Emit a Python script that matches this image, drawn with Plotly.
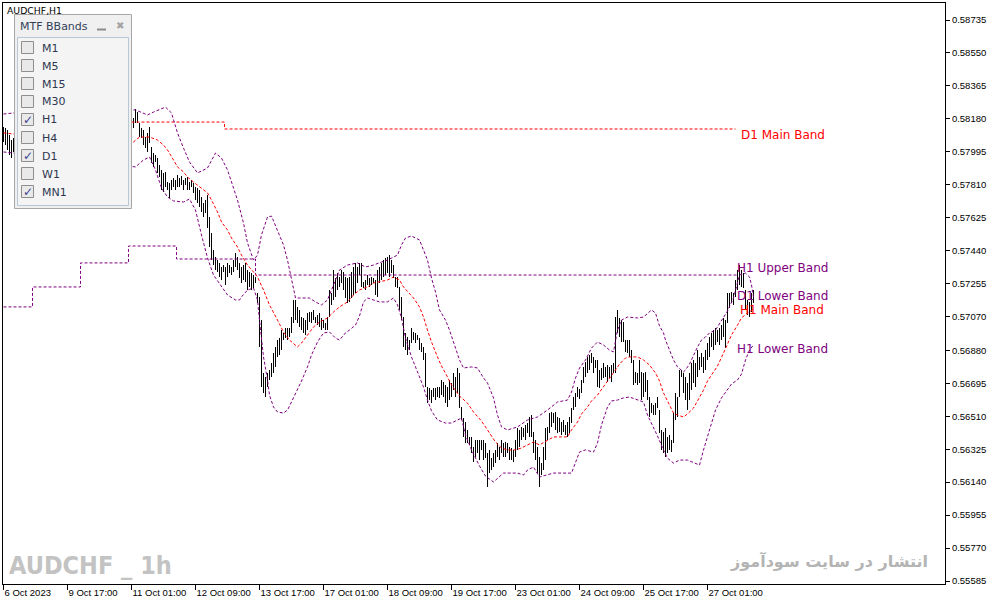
import plotly.graph_objects as go

# ---------------- data (prices in points, 1 pt = 0.00001) ----------------
high_pts = [58134,58129,58117,58089,58061,58072,58010,58000,58030,58050,
58040,58070,58090,58080,58060,58100,58120,58110,58090,58080,
58060,58070,58050,58030,58040,58060,58080,58100,58090,58120,
58140,58130,58110,58100,58080,58090,58070,58060,58080,58100,
58110,58130,58150,58140,58120,58100,58110,58090,58070,58080,
58100,58120,58140,58130,58110,58100,58120,58140,58160,58150,
58170,58180,58160,58150,58170,58185,58235,58218,58157,58129,
58117,58078,58101,58134,58022,57988,57977,57960,57921,57893,
57876,57882,57825,57820,57837,57848,57837,57865,57848,57859,
57837,57848,57853,57825,57837,57820,57797,57792,57780,57741,
57707,57724,57752,57629,57539,57444,57404,57387,57371,57348,
57359,57348,57371,57359,57348,57387,57427,57404,57371,57348,
57359,57371,57331,57320,57314,57303,57292,57202,57180,57050,
56753,56730,56753,56770,56809,56865,56899,56938,56949,56994,
56978,57005,57005,57005,57067,57163,57163,57124,57107,57067,
57062,57050,57090,57095,57095,57107,57067,57079,57090,57062,
57050,57034,57067,57219,57202,57331,57286,57314,57292,57331,
57320,57292,57286,57292,57320,57348,57371,57348,57371,57371,
57264,57275,57303,57286,57292,57286,57275,57331,57348,57371,
57387,57399,57404,57415,57387,57359,57292,57292,57236,57180,
57067,56978,56955,56938,57005,56983,56978,56966,56949,56921,
56899,56865,56674,56669,56657,56669,56669,56674,56674,56714,
56702,56686,56674,56714,56697,56753,56730,56781,56753,56562,
56500,56478,56433,56394,56394,56338,56377,56377,56377,56377,
56377,56360,56304,56321,56275,56304,56321,56360,56338,56377,
56360,56365,56360,56338,56332,56321,56377,56444,56433,56450,
56444,56461,56472,56506,56517,56422,56377,56338,56281,56247,
56338,56444,56450,56528,56534,56528,56534,56506,56500,56478,
56489,56461,56478,56506,56556,56618,56641,56674,56663,56714,
56787,56815,56843,56854,56865,56843,56826,56826,56770,56781,
56809,56787,56798,56787,56798,56809,57067,57107,57062,57050,
57039,56938,56938,56938,56882,56826,56759,56753,56826,56759,
56753,56759,56714,56618,56584,56573,56584,56618,56545,56433,
56422,56444,56394,56405,56377,56528,56641,56618,56770,56770,
56753,56730,56697,56753,56809,56826,56809,56882,56843,56865,
56843,56882,56921,56955,56978,56994,57005,56994,57005,57022,
57062,57050,57202,57202,57208,57202,57275,57331,57359,57331,
57314,57219,57163,57152,57202,57219]

low_pts = [58050,58033,58005,57977,57960,57994,57960,57950,57980,57995,
57990,58010,58040,58030,58010,58030,58060,58070,58050,58030,
58010,58020,58000,57980,57990,58010,58040,58050,58060,58070,
58090,58080,58060,58050,58040,58045,58020,58010,58030,58050,
58070,58080,58100,58090,58070,58060,58065,58040,58030,58040,
58050,58080,58090,58085,58070,58050,58070,58100,58110,58105,
58120,58130,58110,58100,58115,58129,58157,58157,58078,58072,
58033,58016,57994,58044,57932,57910,57938,57876,57853,57780,
57769,57797,57780,57736,57780,57797,57780,57797,57797,57808,
57780,57808,57780,57780,57797,57764,57724,57707,57685,57657,
57629,57651,57567,57460,57387,57359,57331,57320,57292,57275,
57320,57247,57292,57314,57303,57320,57348,57331,57286,57258,
57275,57264,57219,57236,57219,57230,57258,57146,56899,56674,
56641,56618,56674,56714,56730,56753,56787,56843,56854,56882,
56938,56949,56938,56955,56978,57034,57050,57034,57011,56994,
56978,56966,56994,57039,57034,57050,57034,57022,57011,56994,
57005,56994,56994,57067,57135,57163,57180,57219,57236,57258,
57219,57174,57146,57152,57174,57191,57202,57258,57303,57236,
57230,57219,57247,57236,57247,57258,57191,57180,57258,57275,
57292,57303,57314,57292,57314,57286,57236,57230,57107,57050,
56899,56882,56854,56882,56921,56938,56921,56938,56882,56871,
56826,56674,56584,56601,56584,56618,56601,56618,56613,56629,
56618,56584,56562,56601,56618,56657,56618,56641,56556,56489,
56394,56360,56360,56349,56304,56253,56281,56304,56264,56321,
56264,56275,56113,56191,56208,56225,56247,56281,56264,56304,
56281,56281,56304,56264,56264,56253,56281,56321,56338,56377,
56394,56377,56416,56394,56394,56304,56264,56191,56113,56180,
56208,56264,56377,56416,56450,56472,56433,56416,56422,56405,
56422,56405,56394,56416,56472,56545,56562,56618,56607,56641,
56697,56730,56753,56770,56809,56753,56781,56674,56669,56714,
56725,56730,56702,56725,56702,56753,56753,56978,56955,56927,
56927,56871,56865,56843,56809,56686,56697,56686,56697,56601,
56618,56646,56601,56506,56528,56517,56517,56556,56416,56321,
56304,56281,56304,56321,56309,56360,56489,56506,56618,56730,
56641,56601,56545,56601,56657,56697,56674,56730,56770,56787,
56753,56770,56826,56843,56899,56882,56910,56927,56910,56938,
56955,56893,57034,57118,57146,57135,57180,57219,57247,57236,
57230,57107,57079,57067,57095,57146]

# H1 Bollinger bands, sampled at bar indices
h1_upper_idx = [0,5,66,72,75,81,84,87,90,93,97,102,106,109,112,115,117,120,122,125,
127,129,132,134,137,140,142,144,146,148,153,156,159,162,165,168,172,177,181,185,
189,192,197,199,201,204,208,212,214,216,218,221,223,226,228,230,234,237,240,242,
245,247,249,252,255,257,262,267,272,277,282,284,286,288,291,294,297,300,303,305,
307,309,312,317,320,324,326,328,330,331,333,335,337,340,341,343,347,349,351,353,
356,358,360,362,365,367,368,371,373,374,375]
h1_upper_pts = [58207,58213,58230,58202,58218,58246,58213,58101,58016,57938,
57876,57904,57988,57960,57893,57797,57724,57595,57483,57387,
57415,57528,57629,57634,57556,57472,57387,57275,57174,57174,
57174,57152,57135,57163,57247,57331,57359,57371,57348,57359,
57376,57387,57415,57472,57511,57522,57500,57387,57286,57208,
57107,57050,56994,56899,56826,56781,56787,56781,56725,56697,
56613,56517,56450,56433,56444,56450,56489,56506,56545,56590,
56601,56646,56725,56781,56826,56893,56927,56910,56882,56871,
56994,57050,57067,57062,57067,57107,57090,57017,56978,56938,
56882,56826,56787,56759,56770,56803,56899,56938,56955,56978,
56994,57028,57062,57101,57174,57258,57303,57314,57292,57247,57180]

h1_main_idx = [0,5,65,68,73,77,80,82,85,87,90,92,95,97,100,102,104,107,109,112,
114,117,119,122,125,127,130,133,137,140,143,147,149,152,155,158,162,165,168,172,
175,178,182,185,188,192,195,198,200,205,208,210,212,214,217,219,222,224,228,232,
235,239,242,246,249,252,256,259,262,265,268,272,275,282,284,287,289,292,294,297,
300,303,306,308,311,313,317,320,323,326,328,330,332,335,337,340,342,345,347,350,
352,355,357,360,362,364,367,369,372,375]
h1_main_pts = [58101,58095,58050,58078,58078,58061,58033,58005,57949,57910,
57882,57853,57825,57808,57780,57764,57724,57657,57601,57556,
57511,57460,57415,57359,57320,57292,57219,57135,57050,56983,
56938,56899,56921,56966,57011,57039,57062,57095,57124,57152,
57191,57219,57236,57258,57264,57275,57292,57275,57236,57174,
57124,57067,56994,56927,56843,56792,56730,56686,56624,56584,
56534,56483,56433,56365,56332,56321,56321,56332,56349,56365,
56349,56377,56394,56394,56433,56478,56523,56562,56596,56629,
56674,56725,56770,56803,56837,56843,56843,56826,56798,56753,
56708,56641,56596,56528,56517,56506,56523,56556,56596,56657,
56708,56759,56792,56865,56921,56966,57022,57062,57090,57112]

h1_lower_idx = [0,5,66,70,73,76,79,82,85,90,93,96,99,102,105,108,112,116,118,119,
122,125,127,128,129,130,132,133,135,137,140,142,144,147,149,152,154,157,160,163,
166,168,171,173,176,178,180,182,185,188,192,195,197,199,201,204,207,210,212,214,
217,221,224,227,229,231,234,238,241,245,247,250,257,260,262,265,268,272,275,284,
286,288,291,295,297,299,302,304,307,310,313,317,320,322,325,327,330,332,335,338,
342,346,348,350,352,354,356,359,362,364,367,369,371,373,375]
h1_lower_pts = [57994,57988,57910,57949,57966,57893,57792,57741,57719,57713,
57730,57668,57528,57399,57303,57253,57191,57163,57163,57180,
57219,57230,57163,57050,56955,56843,56714,56629,56562,56534,
56528,56545,56590,56657,56708,56787,56854,56927,56978,56983,
56949,56938,56978,56994,57022,57073,57152,57174,57163,57152,
57152,57174,57135,57062,56949,56843,56759,56674,56601,56540,
56489,56472,56472,56489,56500,56405,56321,56231,56174,56141,
56163,56191,56191,56180,56208,56225,56169,56180,56191,56191,
56247,56309,56321,56309,56360,56461,56562,56596,56601,56613,
56618,56601,56590,56517,56450,56399,56321,56275,56247,56264,
56264,56247,56236,56321,56394,56478,56545,56613,56657,56691,
56714,56747,56826,56882,56910]

# D1 bands (step lines)
d1_main_idx = [64, 110.5, 366]
d1_main_pts = [58162, 58123, 58123]
d1_lower_idx = [0, 14.5, 38.5, 62.5, 86.5, 126, 367]
d1_lower_pts = [57124, 57236, 57371, 57466, 57393, 57303, 57303]

# axes
time_tick_idx = [0, 32, 64, 96, 128, 160, 192, 224, 256, 288, 320, 352]
time_tick_labels = ["6 Oct 2023", "9 Oct 17:00", "11 Oct 01:00", "12 Oct 09:00",
                    "13 Oct 17:00", "17 Oct 01:00", "18 Oct 09:00", "19 Oct 17:00",
                    "23 Oct 01:00", "24 Oct 09:00", "25 Oct 17:00", "27 Oct 01:00"]
price_tick_labels = ["0.58735", "0.58550", "0.58365", "0.58180", "0.57995", "0.57810",
                     "0.57625", "0.57440", "0.57255", "0.57070", "0.56880", "0.56695",
                     "0.56510", "0.56325", "0.56140", "0.55955", "0.55770", "0.55585"]
price_tick_vals = [float(s) for s in price_tick_labels]

# panel
tf_names = ["M1", "M5", "M15", "M30", "H1", "H4", "D1", "W1", "MN1"]
tf_checked = [False, False, False, False, True, False, True, False, True]

band_labels = ["D1 Main Band", "H1 Upper Band", "D1 Lower Band", "H1 Main Band", "H1 Lower Band"]
band_label_colors = ["#FF0000", "#800080", "#800080", "#FF0000", "#800080"]
band_label_pos = [(740, 135), (736, 268), (736, 296), (739, 310), (736, 349)]

# ---------------- figure ----------------
FW, FH = 991, 605
ML, MR, MT, MB = 3, 46, 3, 21
PW, PH = FW - ML - MR, FH - MT - MB


def px(x):
    return (x - ML) / PW


def py(y):
    return 1 - (y - MT) / PH


def to_price(v):
    return [p / 1e5 for p in v]


PURPLE = "#800080"
RED = "#FF0000"
DASH = "3px,2px"

fig = go.Figure()
fig.add_trace(go.Bar(
    x=list(range(len(high_pts))),
    base=to_price(low_pts),
    y=[(h - l) / 1e5 for h, l in zip(high_pts, low_pts)],
    width=0.4,
    marker=dict(color="black", line=dict(width=0)),
    hoverinfo="skip",
))

for idx, vals, col, shape in [
    (d1_lower_idx, d1_lower_pts, PURPLE, "hv"),
    (d1_main_idx, d1_main_pts, RED, "hv"),
    (h1_upper_idx, h1_upper_pts, PURPLE, "linear"),
    (h1_lower_idx, h1_lower_pts, PURPLE, "linear"),
    (h1_main_idx, h1_main_pts, RED, "linear"),
]:
    fig.add_trace(go.Scatter(
        x=idx, y=to_price(vals), mode="lines",
        line=dict(color=col, width=1, dash=DASH, shape=shape),
        hoverinfo="skip",
    ))

shapes = []
annotations = []

# band labels
for txt, col, (x, y) in zip(band_labels, band_label_colors, band_label_pos):
    annotations.append(dict(x=px(x), y=py(y), xref="paper", yref="paper", text=txt,
                            showarrow=False, xanchor="left", yanchor="middle",
                            font=dict(family="DejaVu Sans", size=12, color=col),
                            borderpad=0))

# symbol title
annotations.append(dict(x=px(6), y=py(10.5), xref="paper", yref="paper", text="AUDCHF,H1",
                        showarrow=False, xanchor="left", yanchor="middle",
                        font=dict(family="DejaVu Sans", size=9.3, color="#000000"), borderpad=0))

# watermarks
annotations.append(dict(x=px(8), y=py(565), xref="paper", yref="paper", text="<b>AUDCHF _ 1h</b>",
                        showarrow=False, xanchor="left", yanchor="middle",
                        font=dict(family="Liberation Sans Narrow, DejaVu Sans Condensed, Liberation Sans",
                                  size=25, color="#C3C3C3"), borderpad=0))
annotations.append(dict(x=px(929), y=py(561), xref="paper", yref="paper", text="<b>انتشار در سایت سودآموز</b>",
                        showarrow=False, xanchor="right", yanchor="middle",
                        font=dict(family="DejaVu Sans", size=16, color="#B4B4B4"), borderpad=0))

# panel
shapes.append(dict(type="rect", xref="paper", yref="paper", layer="above",
                   x0=px(14.5), x1=px(131.5), y0=py(14.5), y1=py(208.5),
                   fillcolor="#F0F0F0", line=dict(color="#A6A6A6", width=1)))
shapes.append(dict(type="rect", xref="paper", yref="paper", layer="above",
                   x0=px(17.5), x1=px(128.5), y0=py(37.5), y1=py(205.5),
                   fillcolor="#F4F4F4", line=dict(color="#B7C7D5", width=1)))
shapes.append(dict(type="line", xref="paper", yref="paper", layer="above",
                   x0=px(97), x1=px(106), y0=py(29.5), y1=py(29.5),
                   line=dict(color="#8C8C8C", width=2)))
annotations.append(dict(x=px(19), y=py(26.5), xref="paper", yref="paper", text="MTF BBands",
                        showarrow=False, xanchor="left", yanchor="middle",
                        font=dict(family="DejaVu Sans", size=11, color="#34405A"), borderpad=0))
annotations.append(dict(x=px(120), y=py(25.5), xref="paper", yref="paper", text="✖",
                        showarrow=False, xanchor="center", yanchor="middle",
                        font=dict(family="DejaVu Sans", size=10, color="#A3A3A3"), borderpad=0))
for k, (name, chk) in enumerate(zip(tf_names, tf_checked)):
    cy = 47.5 + 18 * k
    shapes.append(dict(type="rect", xref="paper", yref="paper", layer="above",
                       x0=px(21.5), x1=px(33.5), y0=py(cy - 6), y1=py(cy + 6),
                       fillcolor="#E9E9E9", line=dict(color="#8E8E8E", width=1)))
    if chk:
        annotations.append(dict(x=px(27.5), y=py(cy + 0.5), xref="paper", yref="paper", text="<b>✓</b>",
                                showarrow=False, xanchor="center", yanchor="middle",
                                font=dict(family="DejaVu Sans", size=12, color="#3A3F8F"), borderpad=0))
    annotations.append(dict(x=px(41), y=py(cy + 0.5), xref="paper", yref="paper", text=name,
                            showarrow=False, xanchor="left", yanchor="middle",
                            font=dict(family="DejaVu Sans", size=11, color="#2E3650"), borderpad=0))

axis_font = dict(family="Liberation Sans", size=9.5, color="#000000")
fig.update_layout(
    width=FW, height=FH,
    margin=dict(l=ML, r=MR, t=MT, b=MB, pad=0, autoexpand=False),
    paper_bgcolor="white", plot_bgcolor="white",
    showlegend=False,
    shapes=shapes, annotations=annotations,
    xaxis=dict(range=[-0.25, PW / 2 - 0.25], tickvals=time_tick_idx, ticktext=time_tick_labels,
               ticks="outside", ticklen=5, tickcolor="black", tickwidth=1,
               ticklabelposition="outside right",
               showline=True, linecolor="black", linewidth=1, mirror=True,
               showgrid=False, zeroline=False, tickfont=axis_font, fixedrange=True),
    yaxis=dict(side="right", range=[0.5556814, 0.5883046], tickvals=price_tick_vals,
               ticktext=price_tick_labels, ticks="outside", ticklen=4, tickcolor="black",
               tickwidth=1, showline=True, linecolor="black", linewidth=1, mirror=True,
               showgrid=False, zeroline=False, tickfont=axis_font, fixedrange=True),
)

fig.write_html("out.html",
               config={"displayModeBar": False},
               post_script="document.body.style.margin='0px';document.body.style.padding='0px';")
